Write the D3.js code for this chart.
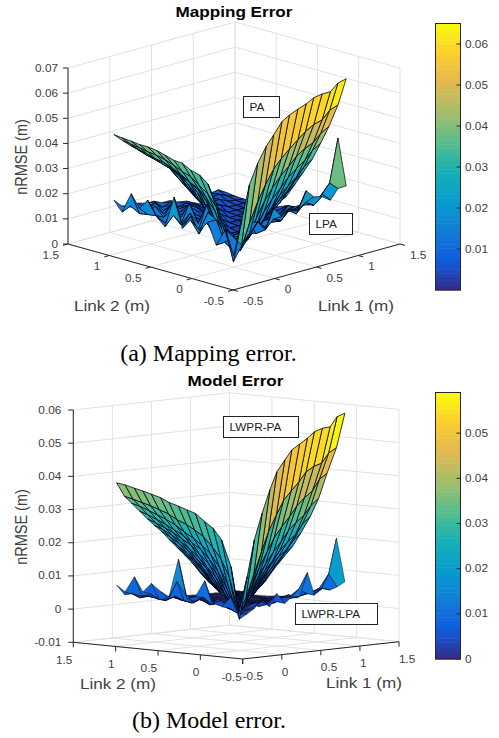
<!DOCTYPE html>
<html><head><meta charset="utf-8">
<script src="https://cdnjs.cloudflare.com/ajax/libs/d3/7.8.5/d3.min.js"></script>
<style>html,body{margin:0;padding:0;background:#fff}svg{display:block}text{font-family:"Liberation Sans",Arial,sans-serif}</style>
</head><body><svg id="c" width="499" height="738"></svg>
<script>
// grid coordinates of the surfaces (m)
const link1Grid=[0,.1,.19,.29,.39,.48,.58,.67,.77,.87,.96,1.06,1.16,1.25,1.35];
const link2Grid=[0,.1,.21,.31,.41,.52,.62,.72,.83,.93,1.04,1.14,1.24,1.35,1.45];
const linkTicks=[-0.5,0,0.5,1,1.5];
const zTicksA=[0,.01,.02,.03,.04,.05,.06,.07];
const zTicksB=[-.01,0,.01,.02,.03,.04,.05,.06];
const barTicksA=[.01,.02,.03,.04,.05,.06];
const barTicksB=[0,.01,.02,.03,.04,.05];
const parula=["#352a87","#0f5cdd","#127dd8","#079ccf","#15b1b4","#59bd8c","#a5be6b","#e1b952","#fcce2e","#f9fb0e"];
// surface heights, rows = link 2, columns = link 1, in 1e-4 m
const mappingPA=[
[20,180,310,386,443,481,525,543,557,569,585,591,591,617,625],
[145,25,47,140,217,274,328,361,390,418,442,461,470,500,512],
[235,118,25,20,66,133,191,233,273,302,333,355,369,398,416],
[302,202,78,22,16,38,79,130,173,207,240,266,290,321,341],
[328,244,164,62,20,14,28,49,84,125,161,189,215,247,269],
[338,269,210,115,56,20,16,22,38,57,88,122,151,182,206],
[356,294,239,178,91,60,25,22,25,32,47,65,89,123,150],
[358,304,254,215,136,75,55,28,28,28,32,37,50,74,94],
[369,321,275,236,185,113,70,55,30,30,30,32,36,44,56],
[378,333,291,253,219,155,97,66,55,32,32,32,32,34,38],
[383,341,304,268,237,192,130,86,63,55,35,34,34,34,34],
[383,345,310,276,247,216,161,111,77,59,55,38,35,35,33],
[387,352,319,288,259,236,194,139,99,74,58,58,42,38,33],
[390,357,328,296,269,246,216,170,125,90,70,57,60,45,35],
[394,362,335,307,280,256,236,197,150,110,83,67,55,60,40]];
const mappingLPA=[
[21,78,115,154,118,190,147,171,156,224,191,183,160,198,199],
[138,100,60,90,135,95,130,115,150,135,160,140,175,210,380],
[68,70,35,45,120,70,85,110,95,125,105,150,120,150,170],
[150,150,95,30,40,65,60,95,80,75,115,90,125,105,130],
[109,170,60,80,30,40,85,50,80,65,70,110,85,95,100],
[139,75,115,70,60,28,35,55,45,70,50,60,85,70,80],
[97,135,70,165,60,40,10,10,12,18,40,45,50,70,60],
[212,90,130,80,90,35,15,10,10,12,20,35,40,45,55],
[84,120,75,150,70,60,30,15,10,10,12,20,30,35,40],
[114,80,125,85,110,65,50,25,12,10,10,12,18,25,28],
[171,100,85,130,75,90,60,40,25,12,10,10,12,15,20],
[129,95,120,80,105,70,85,60,40,20,12,10,10,12,15],
[178,90,85,115,75,90,65,70,55,30,18,12,10,10,12],
[95,110,95,80,100,70,80,55,60,45,25,15,12,10,10],
[133,100,90,95,85,85,70,70,55,50,35,20,14,10,10]];
const modelPA=[
[-6,120,228,306,374,426,459,487,502,517,534,542,544,572,580],
[150,6,51,118,185,244,291,331,358,383,411,425,432,460,474],
[228,112,6,22,83,132,177,217,248,276,305,328,345,378,394],
[260,166,86,6,10,57,102,136,169,199,228,251,269,297,316],
[278,199,136,67,6,9,34,77,111,138,166,189,209,239,258],
[300,229,175,118,55,6,9,18,55,89,119,141,159,186,206],
[308,245,197,151,102,45,7,10,14,38,71,99,121,145,162],
[317,260,216,178,133,90,38,7,10,11,25,54,81,108,129],
[325,271,232,197,159,120,79,34,8,10,11,18,40,69,92],
[337,286,250,216,184,147,111,71,32,8,11,11,15,30,54],
[345,296,264,230,201,169,135,103,63,29,8,11,11,13,21],
[352,305,275,244,216,188,157,126,94,58,27,8,11,12,12],
[358,312,285,256,229,204,175,146,118,87,53,25,9,12,12],
[365,320,296,268,241,219,193,165,138,111,79,48,24,9,12],
[369,326,303,277,251,229,207,181,155,129,105,74,44,22,9]];
const modelLPA=[
[-6,8,22,44,22,59,27,44,42,112,42,59,52,59,72],
[59,4,12,20,35,25,30,40,35,60,45,40,55,95,201],
[27,20,5,10,25,15,25,20,30,35,30,45,40,50,65],
[34,40,15,4,8,22,15,20,25,20,35,25,30,35,40],
[100,25,30,10,3,6,15,12,18,15,20,25,22,25,30],
[49,45,20,35,8,3,6,12,10,15,12,15,18,15,20],
[41,30,40,15,25,6,3,5,10,8,12,10,12,15,15],
[157,45,20,30,12,18,5,3,5,8,6,10,8,10,10],
[41,85,25,15,30,10,12,5,3,4,6,5,8,6,8],
[54,30,35,20,12,22,8,10,4,3,4,5,4,6,5],
[76,25,20,30,15,10,15,6,8,4,3,4,5,4,5],
[48,40,22,15,25,12,8,12,5,6,4,3,4,4,4],
[91,30,28,20,12,18,10,6,8,4,5,4,3,4,4],
[43,35,20,22,15,10,12,8,5,6,4,4,4,3,4],
[61,30,30,20,18,15,10,10,8,6,5,4,4,4,3]];

const svg=d3.select("#c");
const GRID="#e2e2e2",AX="#262626",TXT="#404040",SX=1.18;

function panel(o){
  const g=svg.append("g");
  const l1x=d3.scaleLinear([-.5,1.5],[0,o.right[0]-o.front[0]]);
  const l2x=d3.scaleLinear([-.5,1.5],[0,o.left[0]-o.front[0]]);
  const l1y=d3.scaleLinear([-.5,1.5],[0,o.right[1]-o.front[1]]);
  const l2y=d3.scaleLinear([-.5,1.5],[0,o.left[1]-o.front[1]]);
  const zy=d3.scaleLinear(o.zDomain,[0,o.zTop-o.left[1]]);
  const P=(a,b,z)=>[o.front[0]+l1x(a)+l2x(b),o.front[1]+l1y(a)+l2y(b)+zy(z)];
  const line=(p,q,c,w=1)=>g.append("line").attr("x1",p[0]).attr("y1",p[1]).attr("x2",q[0]).attr("y2",q[1]).attr("stroke",c).attr("stroke-width",w);
  const T=(x,y,s,size,anchor="start",fill=TXT,bold=false)=>g.append("text")
    .attr("transform",`translate(${x},${y}) scale(${SX},1)`).attr("text-anchor",anchor)
    .attr("font-size",size).attr("fill",fill).attr("font-weight",bold?"bold":"normal").text(s);
  const [z0,z1]=o.zDomain;
  // box grid
  linkTicks.forEach(t=>{
    line(P(t,-.5,z0),P(t,1.5,z0),GRID);
    line(P(-.5,t,z0),P(1.5,t,z0),GRID);
    line(P(t,1.5,z0),P(t,1.5,z1),GRID);
    line(P(1.5,t,z0),P(1.5,t,z1),GRID);
  });
  o.zTicks.forEach(z=>{
    line(P(-.5,1.5,z),P(1.5,1.5,z),GRID);
    line(P(1.5,1.5,z),P(1.5,-.5,z),GRID);
  });
  // axes
  line(P(-.5,1.5,z0),P(-.5,1.5,z1),AX);
  line(P(-.5,1.5,z0),P(-.5,-.5,z0),AX);
  line(P(-.5,-.5,z0),P(1.5,-.5,z0),AX);
  o.zTicks.forEach(z=>{
    const p=P(-.5,1.5,z);
    line([p[0]-5,p[1]],p,AX);
    T(p[0]+o.zLabelDx,p[1]+3.5,z,o.tickFont,"end");
  });
  linkTicks.forEach(t=>{
    const a=P(-.5,t,z0),b=P(t,-.5,z0);
    line(a,[a[0]+o.tickL[0],a[1]+o.tickL[1]],AX);
    line(b,[b[0]+o.tickR[0],b[1]+o.tickR[1]],AX);
    T(a[0]+o.labL[0],a[1]+o.labL[1]+3.5,t,o.tickFont,"end");
    T(b[0]+o.labR[0],b[1]+o.labR[1]+3.5,t,o.tickFont,"start");
  });
  // surfaces
  const colour=d3.scaleLinear(d3.range(10).map(k=>o.cMax*k/9),parula).clamp(true);
  const quads=[];
  o.surfaces.forEach((Z,si)=>{
    for(let j=0;j<14;j++)for(let i=0;i<14;i++){
      const c=[[i,j],[i+1,j],[i+1,j+1],[i,j+1]].map(([a,b])=>({a:link1Grid[a],b:link2Grid[b],z:Z[b][a]/1e4}));
      quads.push({c,w:o.meshWidths[si],depth:d3.mean(c,d=>d.a+d.b-o.depthK*d.z),top:d3.max(c,d=>d.z)});
    }
  });
  quads.sort((p,q)=>d3.descending(p.depth,q.depth));
  g.selectAll("path.q").data(quads).join("path").attr("class","q")
    .attr("d",q=>"M"+q.c.map(d=>P(d.a,d.b,d.z).map(v=>v.toFixed(1)).join(",")).join("L")+"Z")
    .attr("fill",q=>colour(q.top)).attr("stroke","#05050f").attr("stroke-width",q=>q.w).attr("stroke-linejoin","round");
  // title and axis labels
  T(o.titleX,o.titleY,o.title,14.5,"middle","#000",true);
  g.append("text").attr("transform",`translate(${o.zLab[0]},${o.zLab[1]}) scale(${SX},1) rotate(-90)`).attr("text-anchor","middle").attr("font-size",14.5).attr("fill",TXT).text("nRMSE (m)");
  T(o.l2Lab[0],o.l2Lab[1],"Link 2 (m)",14.5,"middle");
  T(o.l1Lab[0],o.l1Lab[1],"Link 1 (m)",14.5,"middle");
  // text boxes
  o.boxes.forEach(b=>{
    g.append("rect").attr("x",b.x).attr("y",b.y).attr("width",b.w).attr("height",b.h).attr("fill","#fff").attr("stroke","#222").attr("stroke-width",1);
    T(b.x+6,b.y+14,b.t,10,"start","#222");
  });
  // colour bar
  const by=d3.scaleLinear([0,o.cMax],[o.bar.y1,o.bar.y0]);
  const steps=d3.range(64);
  g.selectAll("rect.cb").data(steps).join("rect").attr("class","cb")
    .attr("x",o.bar.x).attr("width",o.bar.w)
    .attr("y",k=>by((k+1)/64*o.cMax)).attr("height",k=>by(k/64*o.cMax)-by((k+1)/64*o.cMax)+.5)
    .attr("fill",k=>colour((k+.5)/64*o.cMax));
  g.append("rect").attr("x",o.bar.x).attr("y",o.bar.y0).attr("width",o.bar.w).attr("height",o.bar.y1-o.bar.y0).attr("fill","none").attr("stroke",AX);
  o.barTicks.forEach(v=>{
    const y=by(v);
    line([o.bar.x+o.bar.w-4,y],[o.bar.x+o.bar.w,y],AX);
    T(o.bar.x+o.bar.w+4.5,y+3.5,v,o.tickFont);
  });
  g.append("text").attr("x",o.capX).attr("y",o.capY).attr("text-anchor","middle").attr("font-size",24).attr("fill","#000").style("font-family","'Liberation Serif',serif").text(o.caption);
}

panel({title:"Mapping Error",titleX:234,titleY:17,caption:"(a) Mapping error.",capX:208.5,capY:360.5,
  front:[233,290],left:[68,244],right:[400,244],zDomain:[0,.07],zTop:68,zTicks:zTicksA,zLabelDx:-10,
  tickL:[-5,1.4],tickR:[5,1.4],labL:[-9,11],labR:[10,11],tickFont:10,meshWidths:[.8,.7],
  surfaces:[mappingPA,mappingLPA],depthK:8.8,cMax:.065,barTicks:barTicksA,
  bar:{x:435.5,w:25,y0:23.5,y1:290},zLab:[27,157],l2Lab:[112,311],l1Lab:[356,311],
  boxes:[{x:243.5,y:96.5,w:36,h:21,t:"PA"},{x:309.5,y:213.5,w:43,h:21,t:"LPA"}]});
panel({title:"Model Error",titleX:235.5,titleY:386,caption:"(b) Model error.",capX:209,capY:728,
  front:[242.7,659],left:[73.3,642.3],right:[399,641.7],zDomain:[-.01,.06],zTop:410,zTicks:zTicksB,zLabelDx:-12,
  tickL:[0,5],tickR:[0,5],labL:[-1,18],labR:[0,17.5],tickFont:10,meshWidths:[.8,.45],
  surfaces:[modelPA,modelLPA],depthK:4.3,cMax:.059,barTicks:barTicksB,
  bar:{x:435.5,w:25,y0:392.5,y1:659},zLab:[27,527],l2Lab:[118,689],l1Lab:[364,688],
  boxes:[{x:223.5,y:416.5,w:75,h:21,t:"LWPR-PA"},{x:295.5,y:603.5,w:82,h:21,t:"LWPR-LPA"}]});
</script></body></html>
